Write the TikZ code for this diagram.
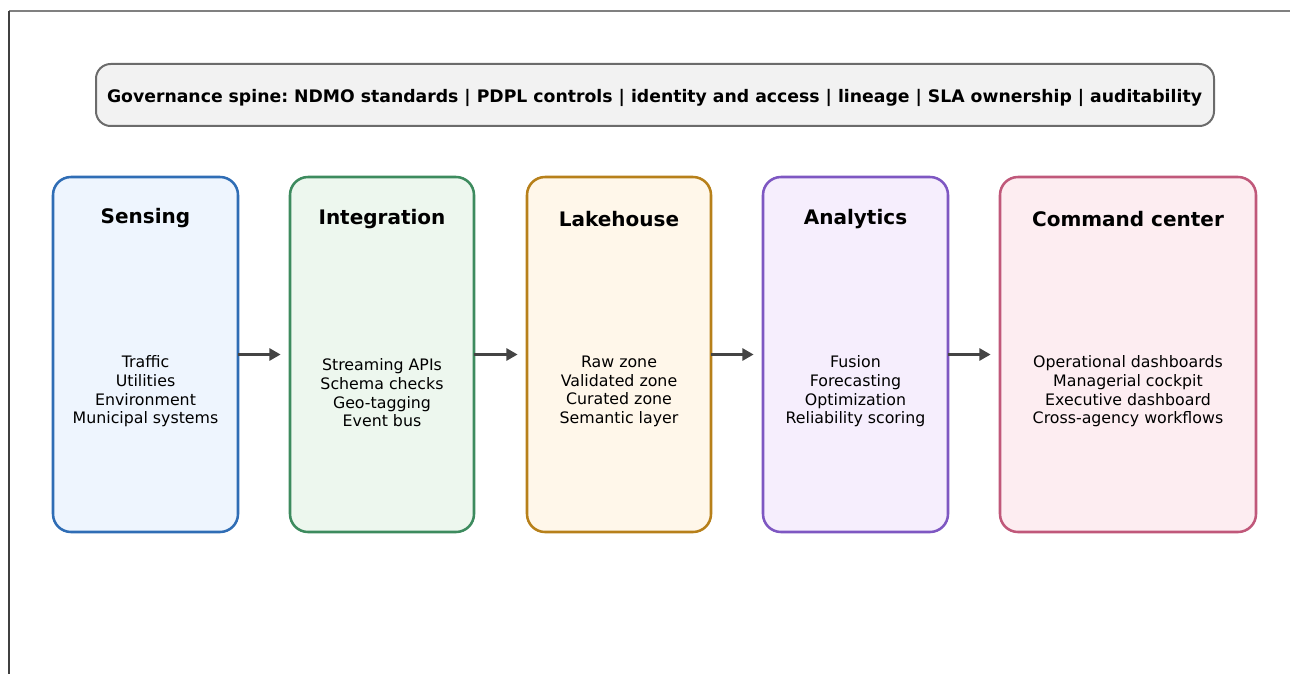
\documentclass[tikz,border=0pt]{standalone}
\usepackage{fontspec}
\setmainfont{DejaVu Sans}
\usetikzlibrary{arrows.meta}
\frenchspacing
\definecolor{sensB}{HTML}{2F6DB5}\definecolor{sensF}{HTML}{EEF5FE}
\definecolor{intB}{HTML}{3D8B5E}\definecolor{intF}{HTML}{EDF7EE}
\definecolor{lakB}{HTML}{B7801A}\definecolor{lakF}{HTML}{FFF7EA}
\definecolor{anaB}{HTML}{7E57C2}\definecolor{anaF}{HTML}{F6EEFD}
\definecolor{cmdB}{HTML}{C0587A}\definecolor{cmdF}{HTML}{FDEDF1}
\definecolor{govB}{HTML}{6B6B6B}\definecolor{govF}{HTML}{F2F2F2}
\definecolor{arr}{HTML}{444444}
\tikzset{
  stage/.style={draw=#1B, fill=#1F, line width=1.9pt, rounded corners=13.5pt, outer sep=0pt, minimum height=355*0.75pt, inner sep=0pt},
  ttl/.style={font=\fontsize{15}{18}\selectfont\bfseries, inner sep=0pt},
  body/.style={font=\fontsize{11.85}{14.05}\selectfont, align=center, inner sep=0pt},
  flow/.style={draw=arr, line width=2.6pt, -{Triangle[length=8.5pt,width=9pt]}, shorten >=7pt},
}
\begin{document}
\begin{tikzpicture}[x=0.75pt,y=-0.75pt]
\useasboundingbox (0,0) rectangle (1290,674);
\draw[line width=1.1pt, color=gray] (9,11) -- (1290,11);
\draw[line width=1.1pt, color=black!75] (9,11) -- (9,674);
\node[draw=govB, fill=govF, line width=1.5pt, rounded corners=11pt, minimum width=1118*0.75pt, minimum height=62*0.75pt, inner sep=0pt] (gov) at (655,95) {};
\node[font=\fontsize{12.95}{15}\selectfont\bfseries, inner sep=0pt] (govtext) at (654.5,97.5)
  {Governance spine: NDMO standards | PDPL controls | identity and access | lineage | SLA ownership | auditability};
\node[stage=sens, minimum width=185*0.75pt] (s1) at (145.5,354.5) {};
\node[stage=int, minimum width=184*0.75pt] (s2) at (382,354.5) {};
\node[stage=lak, minimum width=184*0.75pt] (s3) at (619,354.5) {};
\node[stage=ana, minimum width=185*0.75pt] (s4) at (855.5,354.5) {};
\node[stage=cmd, minimum width=256*0.75pt] (s5) at (1128,354.5) {};
\node[ttl] (t1) at (145.5,218.5) {Sensing};
\node[ttl] (t2) at (382,219) {Integration};
\node[ttl] (t3) at (619,219.5) {Lakehouse};
\node[ttl] (t4) at (855.5,219) {Analytics};
\node[ttl] (t5) at (1128,219.5) {Command center};
\node[body] (b1) at (145.5,391.5) {Traffic\\Utilities\\Environment\\Municipal systems};
\node[body] (b2) at (382,393) {Streaming APIs\\Schema checks\\Geo-tagging\\Event bus};
\node[body] (b3) at (619,391.5) {Raw zone\\Validated zone\\Curated zone\\Semantic layer};
\node[body] (b4) at (855.5,391.5) {Fusion\\Forecasting\\Optimization\\Reliability scoring};
\node[body] (b5) at (1128,391.5) {Operational dashboards\\Managerial cockpit\\Executive dashboard\\Cross-agency workflows};
\draw[flow] (s1.east) -- (s2.west);
\draw[flow] (s2.east) -- (s3.west);
\draw[flow] (s3.east) -- (s4.west);
\draw[flow] (s4.east) -- (s5.west);
\end{tikzpicture}
\end{document}
